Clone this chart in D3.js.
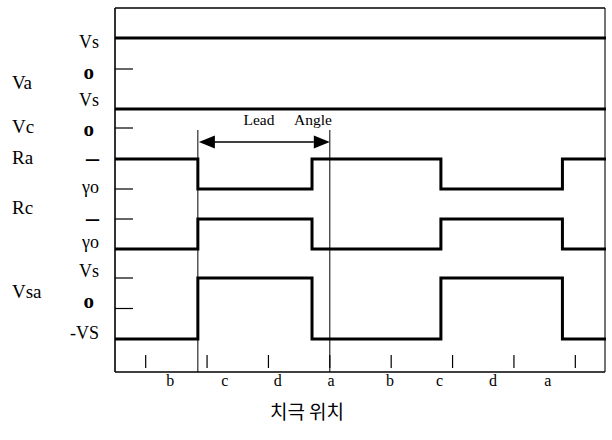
<!DOCTYPE html>
<html>
<head>
<meta charset="utf-8">
<script src="https://cdn.jsdelivr.net/npm/d3@7/dist/d3.min.js"></script>
<style>
  html, body { margin: 0; padding: 0; background: #fff; }
  svg { display: block; }
  .serif { font-family: "Liberation Serif", "DejaVu Serif", serif; fill: #000; }
</style>
</head>
<body>
<svg id="chart" width="612" height="440"></svg>
<script>
// Rotor position in sector units (one sector = 60 electrical degrees)
const edges = [0, 1.35, 3.21, 5.31, 7.29, 8];
// Signal states per interval between edges
const vaState  = [1, 1, 1, 1, 1];
const vcState  = [1, 1, 1, 1, 1];
const raState  = [1, 0, 1, 0, 1];
const rcState  = [0, 1, 0, 1, 0];
const vsaState = [-1, 1, -1, 1, -1];

// Sector boundary ticks and sector letters along the bottom
const sectorTicks = [0.5, 1.5, 2.5, 3.5, 4.5, 5.5, 6.5, 7.5];
const sectorLabels = ["b", "c", "d", "a", "b", "c", "d", "a"];
const sectorLabelPos = [0.9, 1.79, 2.65, 3.52, 4.48, 5.29, 6.16, 7.05];

// Lead angle: from the commutation edge to the sector boundary
const leadFrom = 1.35;
const leadTo = 3.5;

const signalNames = ["Va", "Vc", "Ra", "Rc", "Vsa"];
// Level tick labels for each signal: [signal, value, text]
const levelLabels = [
  ["Va", 1, "Vs"], ["Va", 0, "o"],
  ["Vc", 1, "Vs"], ["Vc", 0, "o"],
  ["Ra", 1, "–"], ["Ra", 0, "γo"],
  ["Rc", 1, "–"], ["Rc", 0, "γo"],
  ["Vsa", 1, "Vs"], ["Vsa", 0, "o"], ["Vsa", -1, "-VS"]
];

(function draw() {
  const svg = d3.select("#chart");
  const fLeft = 115, fRight = 605, fTop = 8, fBottom = 372;

  const x = d3.scaleLinear().domain([0, 8]).range([fLeft, fRight + 1]);

  // One vertical scale per signal track
  const yScales = {
    Va:  d3.scaleLinear().domain([0, 1]).range([69, 38]),
    Vc:  d3.scaleLinear().domain([0, 1]).range([128, 109]),
    Ra:  d3.scaleLinear().domain([0, 1]).range([189, 159]),
    Rc:  d3.scaleLinear().domain([0, 1]).range([249, 219]),
    Vsa: d3.scaleLinear().domain([-1, 1]).range([339, 278])
  };
  const nameBaseline = { Va: 89, Vc: 133, Ra: 164, Rc: 214, Vsa: 298 };
  // Vertical nudge of each level label relative to its level, in px
  const labelNudge = [4.5, 3, -9, 1, 0, -2, 0, -7, -7, -7, -6];

  const g = svg.append("g");

  // Frame
  g.append("line").attr("x1", fLeft).attr("x2", fRight).attr("y1", fTop).attr("y2", fTop)
    .attr("stroke", "#000").attr("stroke-width", 1.5);
  g.append("line").attr("x1", fLeft).attr("x2", fLeft).attr("y1", fTop).attr("y2", fBottom)
    .attr("stroke", "#000").attr("stroke-width", 1.6);
  g.append("line").attr("x1", fRight).attr("x2", fRight).attr("y1", fTop).attr("y2", fBottom)
    .attr("stroke", "#000").attr("stroke-width", 1.1);
  g.append("line").attr("x1", fLeft).attr("x2", fRight).attr("y1", fBottom).attr("y2", fBottom)
    .attr("stroke", "#000").attr("stroke-width", 1.3);

  // Level ticks on the left edge
  g.selectAll("line.lvl").data(levelLabels).join("line")
    .attr("class", "lvl")
    .attr("x1", fLeft).attr("x2", fLeft + 18)
    .attr("y1", d => yScales[d[0]](d[1])).attr("y2", d => yScales[d[0]](d[1]))
    .attr("stroke", "#000").attr("stroke-width", 1.2);

  // Level labels
  const isDash = d => d[2] === "–";
  g.selectAll("text.lvl").data(levelLabels).join("text")
    .attr("class", "lvl serif")
    .attr("x", d => d[2] === "o" ? 94 : 99)
    .attr("y", (d, i) => yScales[d[0]](d[1]) + labelNudge[i])
    .attr("dy", d => isDash(d) ? "0.26em" : "0.33em")
    .attr("text-anchor", "end")
    .attr("font-size", d => isDash(d) ? 26 : (d[2] === "o" ? 21 : 18))
    .attr("font-weight", d => (d[2] === "o" || isDash(d)) ? "bold" : "normal")
    .text(d => d[2]);

  // Signal names
  g.selectAll("text.name").data(signalNames).join("text")
    .attr("class", "name serif")
    .attr("x", 12).attr("y", d => nameBaseline[d])
    .attr("font-size", 19)
    .text(d => d);

  // Waveforms
  const series = [
    ["Va", vaState], ["Vc", vcState], ["Ra", raState], ["Rc", rcState], ["Vsa", vsaState]
  ];
  series.forEach(([name, states]) => {
    const pts = states.map((s, i) => [edges[i], s]);
    pts.push([edges[edges.length - 1], states[states.length - 1]]);
    const line = d3.line()
      .x(d => x(d[0]))
      .y(d => yScales[name](d[1]))
      .curve(d3.curveStepAfter);
    g.append("path").datum(pts)
      .attr("d", line)
      .attr("fill", "none")
      .attr("stroke", "#000")
      .attr("stroke-width", 3)
      .attr("stroke-linejoin", "miter");
  });

  // Lead angle guide lines
  [leadFrom, leadTo].forEach(v => {
    g.append("line")
      .attr("x1", x(v)).attr("x2", x(v))
      .attr("y1", 130).attr("y2", fBottom)
      .attr("stroke", "#000").attr("stroke-width", 1);
  });

  // Double-headed arrow
  const ay = 142, ah = 16, aw = 6.5;
  g.append("line")
    .attr("x1", x(leadFrom) + ah).attr("x2", x(leadTo) - ah)
    .attr("y1", ay).attr("y2", ay)
    .attr("stroke", "#000").attr("stroke-width", 1.6);
  g.append("path")
    .attr("d", `M${x(leadFrom) + 1},${ay} L${x(leadFrom) + 1 + ah},${ay - aw} L${x(leadFrom) + 1 + ah},${ay + aw} Z`)
    .attr("fill", "#000");
  g.append("path")
    .attr("d", `M${x(leadTo)},${ay} L${x(leadTo) - ah},${ay - aw} L${x(leadTo) - ah},${ay + aw} Z`)
    .attr("fill", "#000");
  g.append("text").attr("class", "serif")
    .attr("x", 259).attr("y", 125).attr("text-anchor", "middle")
    .attr("font-size", 15.5).text("Lead");
  g.append("text").attr("class", "serif")
    .attr("x", 313).attr("y", 125).attr("text-anchor", "middle")
    .attr("font-size", 15.5).text("Angle");

  // Sector ticks at the bottom
  g.selectAll("line.sec").data(sectorTicks).join("line")
    .attr("class", "sec")
    .attr("x1", d => x(d)).attr("x2", d => x(d))
    .attr("y1", 355).attr("y2", 368)
    .attr("stroke", "#000").attr("stroke-width", 1.2);

  // Sector letters
  g.selectAll("text.sec").data(sectorLabels).join("text")
    .attr("class", "sec serif")
    .attr("x", (d, i) => x(sectorLabelPos[i]))
    .attr("y", 386)
    .attr("text-anchor", "middle")
    .attr("font-size", 16)
    .text(d => d);

  // Axis title
  svg.append("text")
    .attr("x", 307).attr("y", 419)
    .attr("text-anchor", "middle")
    .attr("font-family", "'Noto Sans CJK KR', sans-serif")
    .attr("font-size", 19)
    .attr("fill", "#000")
    .text("치극 위치");
})();
</script>
</body>
</html>
